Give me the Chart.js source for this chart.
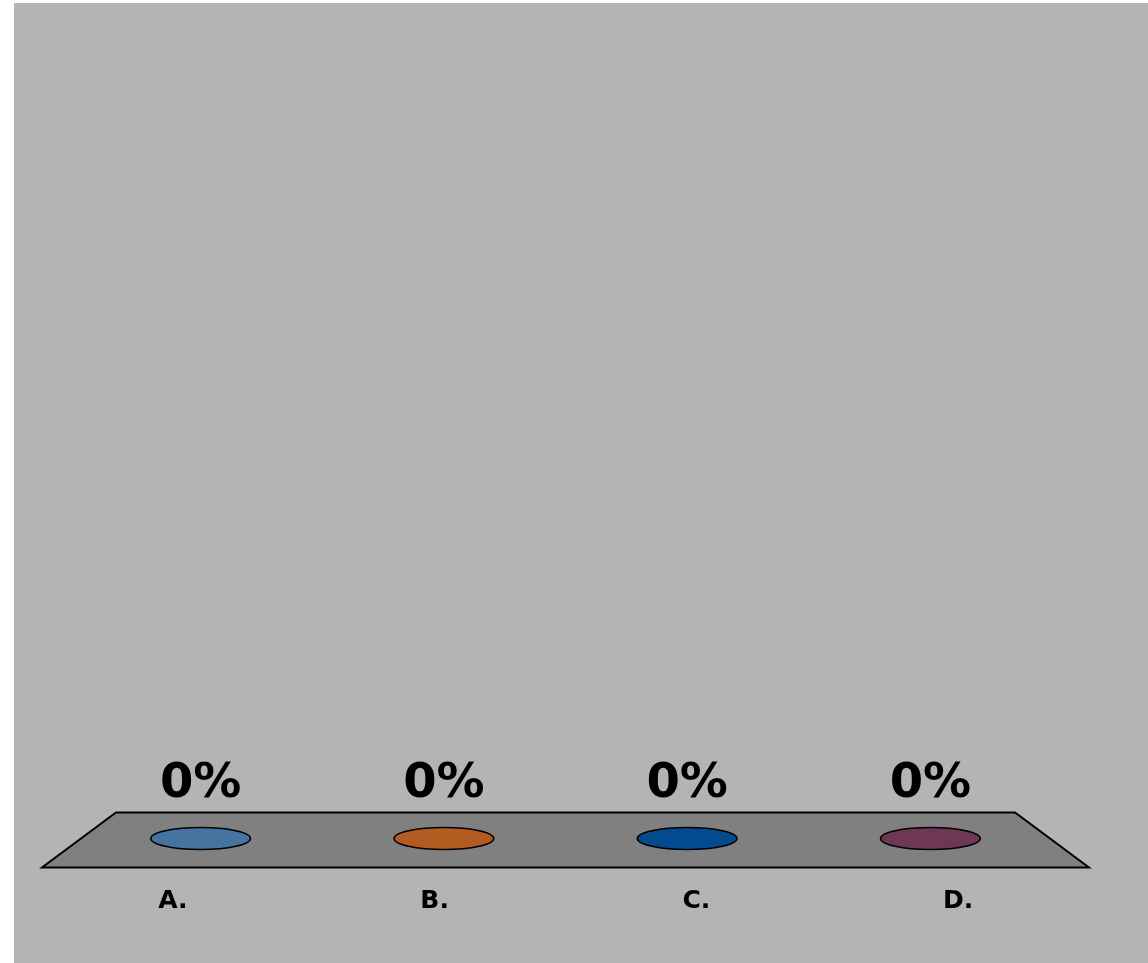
<!DOCTYPE html>
<html>
<head>
<meta charset="utf-8">
<script src="https://cdn.jsdelivr.net/npm/chart.js@4/dist/chart.umd.min.js"></script>
<style>
  html, body { margin: 0; padding: 0; background: #fff; }
  .panel {
    position: absolute; left: 14px; top: 3px;
    width: 1134px; height: 960px; background: #b4b4b4;
  }
</style>
</head>
<body>
<div class="panel"><canvas id="chart" width="1134" height="960"></canvas></div>
<script>
const categories = ['A.', 'B.', 'C.', 'D.'];
const values = [0, 0, 0, 0];
const colors = ['#4574a1', '#b35c22', '#024b8e', '#6e3755'];

// floor slab + cylinder tops + labels, drawn in pseudo-3D around the zero line
const floorPlugin = {
  id: 'floor3d',
  beforeDatasetsDraw(chart) {
    const { ctx, chartArea, scales } = chart;
    const y0 = scales.y.getPixelForValue(0);
    const cx = (chartArea.left + chartArea.right) / 2;
    const half = (chartArea.right - chartArea.left) / 2;
    const depth = 27.5;
    const front = 1.076, back = 0.924;
    ctx.save();
    ctx.beginPath();
    ctx.moveTo(cx - half * back, y0 - depth);
    ctx.lineTo(cx + half * back, y0 - depth);
    ctx.lineTo(cx + half * front, y0 + depth);
    ctx.lineTo(cx - half * front, y0 + depth);
    ctx.closePath();
    ctx.fillStyle = '#808080';
    ctx.fill();
    ctx.lineWidth = 2;
    ctx.strokeStyle = '#000';
    ctx.stroke();

    // category labels projected onto the front edge
    ctx.fillStyle = '#000';
    ctx.font = 'bold 25px "DejaVu Sans"';
    ctx.textAlign = 'center';
    ctx.textBaseline = 'alphabetic';
    categories.forEach((c, i) => {
      const x = scales.x.getPixelForValue(i);
      ctx.fillText(c, cx + (x - cx) * front, y0 + 68);
    });
    ctx.restore();
  },
  afterDatasetsDraw(chart) {
    const { ctx, scales } = chart;
    const meta = chart.getDatasetMeta(0);
    ctx.save();
    meta.data.forEach((bar, i) => {
      const x = bar.x;
      // cylinder cap sits slightly behind the floor's mid line
      const y = scales.y.getPixelForValue(values[i]) - 1.5;
      const rx = bar.width / 2;
      ctx.beginPath();
      ctx.ellipse(x, y, rx, 11, 0, 0, Math.PI * 2);
      ctx.fillStyle = colors[i];
      ctx.fill();
      ctx.lineWidth = 1.5;
      ctx.strokeStyle = '#000';
      ctx.stroke();

      ctx.fillStyle = '#000';
      ctx.font = 'bold 48px "DejaVu Sans"';
      ctx.textAlign = 'center';
      ctx.textBaseline = 'alphabetic';
      ctx.fillText(Math.round(values[i] * 100) + '%', x, y - 41.5);
    });
    ctx.restore();
  }
};

new Chart(document.getElementById('chart'), {
  type: 'bar',
  data: {
    labels: categories,
    datasets: [{
      data: values,
      backgroundColor: colors,
      borderWidth: 0,
      barPercentage: 0.41,
      categoryPercentage: 1
    }]
  },
  options: {
    responsive: false,
    animation: false,
    layout: { padding: { left: 65, right: 96, top: 100, bottom: 123 } },
    plugins: { legend: { display: false }, tooltip: { enabled: false } },
    scales: {
      x: { display: false },
      y: { display: false, min: 0, max: 1 }
    }
  },
  plugins: [floorPlugin]
});
</script>
</body>
</html>
